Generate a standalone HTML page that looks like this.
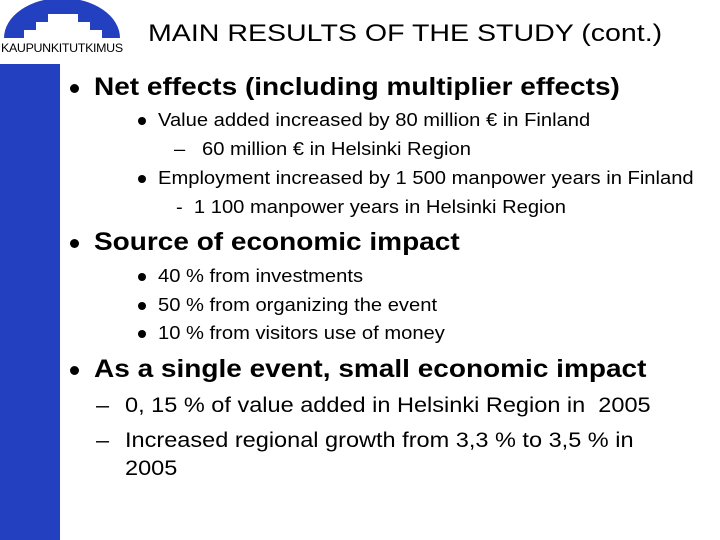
<!DOCTYPE html>
<html><head><meta charset="utf-8"><style>
body{margin:0;width:720px;height:540px;background:#fff;position:relative;overflow:hidden;font-family:"Liberation Sans",sans-serif;color:#000}
.t{position:absolute;white-space:nowrap;transform-origin:0 0;transform:scaleX(1.12)}
.b{position:absolute;width:9px;height:9px;border-radius:50%;background:#000}
</style></head><body>
<div style="position:absolute;left:0;top:64px;width:60px;height:476px;background:#2340c0"></div>
<svg style="position:absolute;left:0;top:0" width="130" height="44">
<path d="M4,38 A58,40 0 0 1 120,38 L102,38 L102,30 L90,30 L90,22 L78,22 L78,14 L48,14 L48,22 L36,22 L36,30 L24,30 L24,38 Z" fill="#2340c0"/>
</svg>
<div class="t" style="left:1px;top:43px;font-size:11.5px;letter-spacing:-0.3px;transform:scaleX(1.08)">KAUPUNKITUTKIMUS</div>
<div class="t" style="left:148px;top:20px;font-size:24px;transform:scaleX(1.19)">MAIN RESULTS OF THE STUDY (cont.)</div>

<div class="b" style="left:70px;top:84px"></div>
<div class="t" style="left:94px;top:73px;font-size:25px;font-weight:bold">Net effects (including multiplier effects)</div>
<div class="b" style="left:138px;top:117px;width:8px;height:8px"></div>
<div class="t" style="left:158px;top:110px;font-size:18px">Value added increased by 80 million € in Finland</div>
<div class="t" style="left:174px;top:139px;font-size:18px">–&nbsp;&nbsp; 60 million € in Helsinki Region</div>
<div class="b" style="left:138px;top:175px;width:8px;height:8px"></div>
<div class="t" style="left:158px;top:168px;font-size:18px">Employment increased by 1 500 manpower years in Finland</div>
<div class="t" style="left:176px;top:197px;font-size:18px">-&nbsp; 1 100 manpower years in Helsinki Region</div>

<div class="b" style="left:70px;top:239px"></div>
<div class="t" style="left:94px;top:228px;font-size:25px;font-weight:bold">Source of economic impact</div>
<div class="b" style="left:138px;top:273px;width:8px;height:8px"></div>
<div class="t" style="left:158px;top:266px;font-size:18px">40 % from investments</div>
<div class="b" style="left:138px;top:302px;width:8px;height:8px"></div>
<div class="t" style="left:158px;top:295px;font-size:18px">50 % from organizing the event</div>
<div class="b" style="left:138px;top:330px;width:8px;height:8px"></div>
<div class="t" style="left:158px;top:323px;font-size:18px">10 % from visitors use of money</div>

<div class="b" style="left:70px;top:366px"></div>
<div class="t" style="left:94px;top:355px;font-size:25px;font-weight:bold">As a single event, small economic impact</div>
<div class="t" style="left:96px;top:394px;font-size:21px">–</div>
<div class="t" style="left:125px;top:394px;font-size:21px">0, 15 % of value added in Helsinki Region in&nbsp; 2005</div>
<div class="t" style="left:96px;top:429px;font-size:21px">–</div>
<div class="t" style="left:125px;top:429px;font-size:21px">Increased regional growth from 3,3 % to 3,5 % in</div>
<div class="t" style="left:125px;top:457px;font-size:21px">2005</div>
</body></html>
